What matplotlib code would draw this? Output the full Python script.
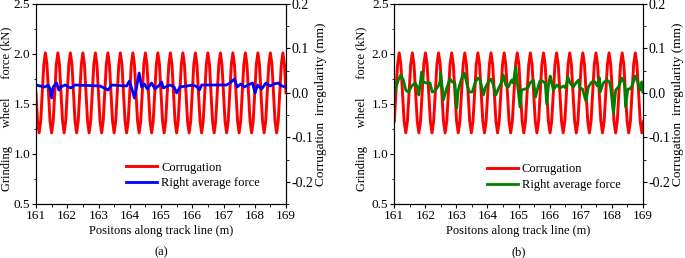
import numpy as np
import matplotlib
matplotlib.use("Agg")
import matplotlib.pyplot as plt
from matplotlib.ticker import MultipleLocator

plt.rcParams['font.family'] = ['Liberation Serif', 'DejaVu Serif']

# ---------------- data ----------------
# corrugation (mm), panel (a): sampled every 0.05 m from 161 m
pos_a = np.round(161.0 + 0.05 * np.arange(161), 4)
corr_a = [
    0, -0.064, -0.09, -0.064, 0, 0.064, 0.09, 0.064,
    0, -0.064, -0.09, -0.064, 0, 0.064, 0.09, 0.064,
    0, -0.064, -0.09, -0.064, 0, 0.064, 0.09, 0.064,
    0, -0.064, -0.09, -0.064, 0, 0.064, 0.09, 0.064,
    0, -0.064, -0.09, -0.064, 0, 0.064, 0.09, 0.064,
    0, -0.064, -0.09, -0.064, 0, 0.064, 0.09, 0.064,
    0, -0.064, -0.09, -0.064, 0, 0.064, 0.09, 0.064,
    0, -0.064, -0.09, -0.064, 0, 0.064, 0.09, 0.064,
    0, -0.064, -0.09, -0.064, 0, 0.064, 0.09, 0.064,
    0, -0.064, -0.09, -0.064, 0, 0.064, 0.09, 0.064,
    0, -0.064, -0.09, -0.064, 0, 0.064, 0.09, 0.064,
    0, -0.064, -0.09, -0.064, 0, 0.064, 0.09, 0.064,
    0, -0.064, -0.09, -0.064, 0, 0.064, 0.09, 0.064,
    0, -0.064, -0.09, -0.064, 0, 0.064, 0.09, 0.064,
    0, -0.064, -0.09, -0.064, 0, 0.064, 0.09, 0.064,
    0, -0.064, -0.09, -0.064, 0, 0.064, 0.09, 0.064,
    0, -0.064, -0.09, -0.064, 0, 0.064, 0.09, 0.064,
    0, -0.064, -0.09, -0.064, 0, 0.064, 0.09, 0.064,
    0, -0.064, -0.09, -0.064, 0, 0.064, 0.09, 0.064,
    0, -0.064, -0.09, -0.064, 0, 0.064, 0.09, 0.064,
    0,
]

# corrugation (mm), panel (b): sampled every 0.0528 m from 161 m
pos_b = np.round(161.0 + 0.0528 * np.arange(153), 4)
corr_b = [
    -0.064, 0, 0.064, 0.09, 0.064, 0, -0.064, -0.09,
    -0.064, 0, 0.064, 0.09, 0.064, 0, -0.064, -0.09,
    -0.064, 0, 0.064, 0.09, 0.064, 0, -0.064, -0.09,
    -0.064, 0, 0.064, 0.09, 0.064, 0, -0.064, -0.09,
    -0.064, 0, 0.064, 0.09, 0.064, 0, -0.064, -0.09,
    -0.064, 0, 0.064, 0.09, 0.064, 0, -0.064, -0.09,
    -0.064, 0, 0.064, 0.09, 0.064, 0, -0.064, -0.09,
    -0.064, 0, 0.064, 0.09, 0.064, 0, -0.064, -0.09,
    -0.064, 0, 0.064, 0.09, 0.064, 0, -0.064, -0.09,
    -0.064, 0, 0.064, 0.09, 0.064, 0, -0.064, -0.09,
    -0.064, 0, 0.064, 0.09, 0.064, 0, -0.064, -0.09,
    -0.064, 0, 0.064, 0.09, 0.064, 0, -0.064, -0.09,
    -0.064, 0, 0.064, 0.09, 0.064, 0, -0.064, -0.09,
    -0.064, 0, 0.064, 0.09, 0.064, 0, -0.064, -0.09,
    -0.064, 0, 0.064, 0.09, 0.064, 0, -0.064, -0.09,
    -0.064, 0, 0.064, 0.09, 0.064, 0, -0.064, -0.09,
    -0.064, 0, 0.064, 0.09, 0.064, 0, -0.064, -0.09,
    -0.064, 0, 0.064, 0.09, 0.064, 0, -0.064, -0.09,
    -0.064, 0, 0.064, 0.09, 0.064, 0, -0.064, -0.09,
    -0.064,
]

# right average force (kN), panel (a)
pos_fa = [161.00, 161.13, 161.29, 161.39, 161.45, 161.50, 161.55, 161.66,
          161.73, 161.79, 161.93, 162.11, 162.25, 163.05, 163.31, 163.42,
          163.90, 163.99, 164.07, 164.15, 164.22, 164.30, 164.38, 164.47,
          164.56, 164.70, 164.81, 164.95, 165.02, 165.07, 165.29, 165.42,
          165.50, 165.61, 166.03, 166.16, 166.23, 166.30, 167.10, 167.21,
          167.35, 167.44, 167.55, 167.66, 167.79, 167.93, 168.01, 168.09,
          168.22, 168.36, 168.49, 168.62, 168.75, 168.86, 169.00]
force_a = [1.69, 1.68, 1.67, 1.69, 1.65, 1.56, 1.67, 1.71,
           1.64, 1.67, 1.69, 1.66, 1.69, 1.68, 1.64, 1.69,
           1.68, 1.73, 1.65, 1.56, 1.67, 1.81, 1.67, 1.70,
           1.65, 1.71, 1.65, 1.69, 1.72, 1.66, 1.69, 1.67,
           1.61, 1.67, 1.69, 1.67, 1.64, 1.69, 1.69, 1.71,
           1.75, 1.67, 1.70, 1.67, 1.69, 1.71, 1.61, 1.69,
           1.65, 1.71, 1.68, 1.70, 1.71, 1.68, 1.67]

# right average force (kN), panel (b)
pos_fb = [161.00, 161.04, 161.13, 161.21, 161.29, 161.37, 161.45, 161.56,
          161.67, 161.75, 161.79, 161.88, 161.93, 162.04, 162.15, 162.22,
          162.31, 162.42, 162.47, 162.49, 162.55, 162.58, 162.69, 162.79,
          162.87, 162.95, 163.01, 163.06, 163.17, 163.26, 163.33, 163.41,
          163.51, 163.60, 163.69, 163.76, 163.84, 163.87, 163.94, 164.03,
          164.12, 164.19, 164.27, 164.35, 164.46, 164.51, 164.59, 164.67,
          164.78, 164.83, 164.91, 164.97, 165.05, 165.10, 165.21, 165.30,
          165.37, 165.48, 165.55, 165.62, 165.69, 165.77, 165.86, 165.91,
          165.96, 166.02, 166.07, 166.12, 166.23, 166.34, 166.45, 166.52,
          166.59, 166.66, 166.77, 166.85, 166.93, 166.98, 167.06, 167.17,
          167.25, 167.36, 167.47, 167.54, 167.61, 167.63, 167.73, 167.84,
          167.93, 167.97, 168.00, 168.06, 168.13, 168.22, 168.33, 168.41,
          168.45, 168.52, 168.59, 168.67, 168.76, 168.84, 168.92, 168.97,
          169.00]
force_b = [1.59, 1.66, 1.74, 1.79, 1.74, 1.64, 1.62, 1.68,
           1.71, 1.67, 1.59, 1.82, 1.72, 1.71, 1.71, 1.62,
           1.63, 1.68, 1.72, 1.81, 1.65, 1.54, 1.66, 1.75,
           1.72, 1.71, 1.46, 1.64, 1.76, 1.81, 1.71, 1.62,
           1.62, 1.71, 1.76, 1.74, 1.64, 1.59, 1.67, 1.72,
           1.75, 1.69, 1.59, 1.65, 1.72, 1.79, 1.69, 1.67,
           1.74, 1.71, 1.87, 1.69, 1.47, 1.64, 1.65, 1.66,
           1.71, 1.74, 1.57, 1.66, 1.73, 1.73, 1.71, 1.50,
           1.67, 1.78, 1.72, 1.64, 1.69, 1.66, 1.68, 1.66,
           1.77, 1.71, 1.67, 1.71, 1.74, 1.66, 1.65, 1.53,
           1.67, 1.72, 1.72, 1.68, 1.76, 1.62, 1.71, 1.74,
           1.72, 1.66, 1.57, 1.41, 1.64, 1.67, 1.76, 1.71,
           1.47, 1.65, 1.65, 1.69, 1.78, 1.72, 1.64, 1.72,
           1.62]

x_ticks = [161, 162, 163, 164, 165, 166, 167, 168, 169]
left_ticks = [0.5, 1.0, 1.5, 2.0, 2.5]
right_ticks = [-0.2, -0.1, 0.0, 0.1, 0.2]
right_ticklabels = ['-0.2', '-0.1', '0.0', '0.1', '0.2']

labels = ['Corrugation', 'Right average force']
panels = [
    dict(pos_c=pos_a, corr=corr_a, pos_f=pos_fa, force=force_a,
         fcolor='#0000ff', tag='(a)', rect=[36 / 685, 54 / 258, 250 / 685, 200 / 258],
         leg=(0.36, 0.212), ylab_x=-0.092),
    dict(pos_c=pos_b, corr=corr_b, pos_f=pos_fb, force=force_b,
         fcolor='#008000', tag='(b)', rect=[394.3 / 685, 54 / 258, 248.4 / 685, 200 / 258],
         leg=(0.372, 0.203), ylab_x=-0.105),
]

fig = plt.figure(figsize=(6.85, 2.58), dpi=100)

for p in panels:
    ax = fig.add_axes(p['rect'])
    ax2 = ax.twinx()
    ax.set_zorder(ax2.get_zorder() + 1)
    ax.patch.set_visible(False)

    lc, = ax2.plot(p['pos_c'], p['corr'], color='#ff0000', lw=2.1)
    lf, = ax.plot(p['pos_f'], p['force'], color=p['fcolor'], lw=2.0)

    ax.set_xlim(161, 169)
    ax.set_ylim(0.5, 2.5)
    ax2.set_ylim(-0.25, 0.2)
    ax.set_xticks(x_ticks)
    ax.xaxis.set_minor_locator(MultipleLocator(0.5))
    ax.set_yticks(left_ticks)
    ax.yaxis.set_minor_locator(MultipleLocator(0.25))
    ax2.set_yticks(right_ticks)
    ax2.set_yticklabels(right_ticklabels)
    ax2.yaxis.set_minor_locator(MultipleLocator(0.05))

    for a in (ax, ax2):
        a.tick_params(which='major', direction='out', length=3, width=0.8,
                      labelsize=10, pad=1.2)
        a.tick_params(which='minor', direction='out', length=1.8, width=0.6)
        for s in a.spines.values():
            s.set_linewidth(0.8)
    ax.tick_params(axis='y', labelsize=9.5)
    ax.tick_params(axis='x', labelsize=9.5)
    ax.tick_params(top=False, which='both')

    ax.set_xlabel('Positons along track line (m)', fontsize=9, labelpad=2)
    ax.set_ylabel('Grinding      wheel      force (kN)', fontsize=9, labelpad=0)
    ax.yaxis.set_label_coords(p['ylab_x'], 0.477)
    ax2.set_ylabel('Corrugation  irregularity (mm)', fontsize=9.5, labelpad=1)
    ax.text(0.5, -0.24, p['tag'], transform=ax.transAxes, ha='center',
            va='center', fontsize=9)

    ax.legend([lc, lf], labels, loc='upper left', bbox_to_anchor=p['leg'],
              frameon=False, fontsize=9, borderpad=0, borderaxespad=0,
              handlelength=2.5, handletextpad=0.3, labelspacing=0.3)

fig.savefig('out.png', dpi=100)
